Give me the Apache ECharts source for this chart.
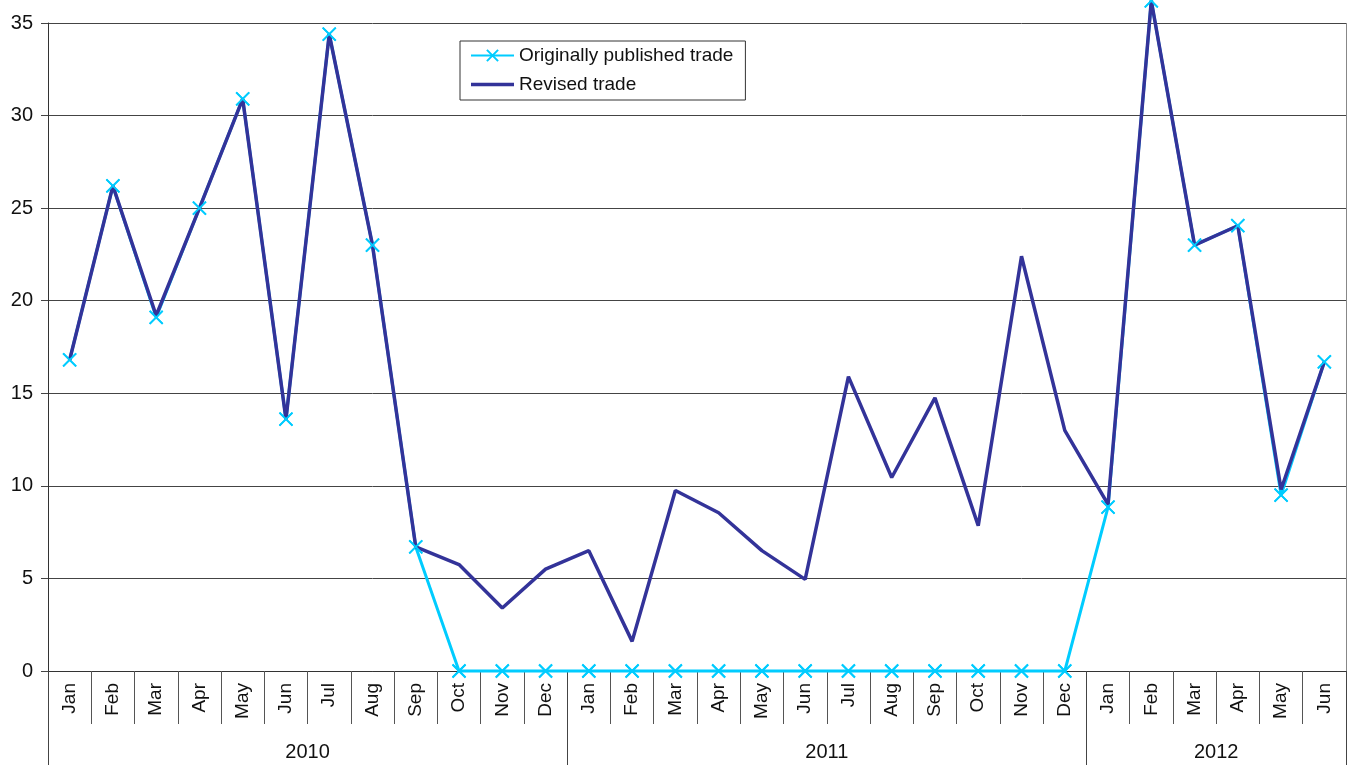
<!DOCTYPE html>
<html>
<head>
<meta charset="utf-8">
<script src="https://cdn.jsdelivr.net/npm/echarts@6/dist/echarts.min.js"></script>
<style>html,body{margin:0;padding:0;background:#fff;}#c{width:1352px;height:767px;}</style>
</head>
<body>
<div id="c"></div>
<script>
var months = ['Jan','Feb','Mar','Apr','May','Jun','Jul','Aug','Sep','Oct','Nov','Dec',
              'Jan','Feb','Mar','Apr','May','Jun','Jul','Aug','Sep','Oct','Nov','Dec',
              'Jan','Feb','Mar','Apr','May','Jun'];
var years = ['2010','2011','2012'];
var yearMonthCounts = [12, 12, 6];
var yTicks = [0, 5, 10, 15, 20, 25, 30, 35];
var revised = [16.8, 26.2, 19.2, 25.0, 30.9, 13.6, 34.4, 23.0, 6.7, 5.75, 3.4, 5.5,
               6.5, 1.6, 9.75, 8.55, 6.5, 4.95, 15.9, 10.45, 14.75, 7.85, 22.4, 13.0,
               9.0, 36.2, 23.0, 24.05, 9.8, 16.7];
var original = [16.8, 26.2, 19.1, 25.0, 30.9, 13.6, 34.4, 23.0, 6.7, 0, 0, 0,
                0, 0, 0, 0, 0, 0, 0, 0, 0, 0, 0, 0,
                8.85, 36.2, 23.0, 24.05, 9.5, 16.7];

// second-level (year) axis built from boundaries between month categories
var total = months.length;
var yearAxisData = [];
for (var i = 0; i <= total; i++) yearAxisData.push('');
var boundaries = [0];
var acc = 0;
for (var k = 0; k < years.length; k++) {
  var mid = acc + yearMonthCounts[k] / 2;
  yearAxisData[Math.round(mid)] = years[k];
  acc += yearMonthCounts[k];
  boundaries.push(acc);
}
var labelIdx = {};
for (var k2 = 0; k2 < years.length; k2++) labelIdx[yearAxisData.indexOf(years[k2])] = true;

var FONT = 'Liberation Sans, Arial, sans-serif';
var CYAN = '#00ccff';
var NAVY = '#333399';
var crossSym = 'path://M0,0L10,10M10,0L0,10';
var lineIcon = 'path://M0,5L43,5L43,8.5L0,8.5Z';

var chart = echarts.init(document.getElementById('c'));
chart.setOption({
  animation: false,
  grid: { left: 48, right: 6, top: 23, bottom: 96, containLabel: false },
  legend: {
    orient: 'vertical',
    left: 460, top: 41,
    padding: [5, 12, 6, 10],
    itemGap: 10,
    itemWidth: 43, itemHeight: 14,
    backgroundColor: '#fff',
    borderColor: '#333', borderWidth: 1, borderRadius: 0,
    textStyle: { fontFamily: FONT, fontSize: 19, color: '#111' },
    data: [
      { name: 'Originally published trade' },
      { name: 'Revised trade', icon: lineIcon, itemStyle: { color: NAVY } }
    ]
  },
  xAxis: [
    {
      type: 'category',
      data: months,
      position: 'bottom',
      axisLine: { show: true, lineStyle: { color: '#333', width: 1 } },
      axisTick: { show: true, interval: 0, length: 53, lineStyle: { color: '#555', width: 1 } },
      axisLabel: { interval: 0, rotate: 90, margin: 12, fontFamily: FONT, fontSize: 19, color: '#111' },
      splitLine: { show: false }
    },
    {
      type: 'category',
      data: yearAxisData,
      boundaryGap: false,
      position: 'bottom',
      offset: 0,
      axisLine: { show: false },
      axisTick: {
        show: true, length: 94,
        interval: function (idx) { return boundaries.indexOf(idx) >= 0; },
        lineStyle: { color: '#444', width: 1 }
      },
      axisLabel: {
        show: true, margin: 71, fontFamily: FONT, fontSize: 20, color: '#111',
        interval: function (idx) { return !!labelIdx[idx]; }
      },
      splitLine: {
        show: true,
        interval: function (idx) { return idx === total; },
        lineStyle: { color: '#888', width: 1 }
      }
    }
  ],
  yAxis: {
    type: 'value',
    min: 0, max: 35, interval: 5,
    axisLine: { show: true, lineStyle: { color: '#333', width: 1 } },
    axisTick: { show: true, length: 7, lineStyle: { color: '#444' } },
    axisLabel: { margin: 15, fontFamily: FONT, fontSize: 20, color: '#111' },
    splitLine: { show: true, lineStyle: { color: '#444', width: 1 } }
  },
  series: [
    {
      name: 'Originally published trade',
      type: 'line',
      data: original,
      z: 2,
      clip: false,
      symbol: crossSym,
      symbolSize: 13,
      showSymbol: true,
      lineStyle: { color: CYAN, width: 3 },
      itemStyle: { color: CYAN, borderColor: CYAN, borderWidth: 1.8 }
    },
    {
      name: 'Revised trade',
      type: 'line',
      data: revised,
      z: 3,
      clip: false,
      symbol: 'none',
      lineStyle: { color: NAVY, width: 3.5 },
      itemStyle: { color: NAVY }
    },
    {
      name: 'orig-markers',
      type: 'line',
      data: original,
      z: 4,
      clip: false,
      symbol: crossSym,
      symbolSize: 13,
      showSymbol: true,
      lineStyle: { width: 0, opacity: 0 },
      itemStyle: { color: CYAN, borderColor: CYAN, borderWidth: 1.8 }
    }
  ]
});
</script>
</body>
</html>
